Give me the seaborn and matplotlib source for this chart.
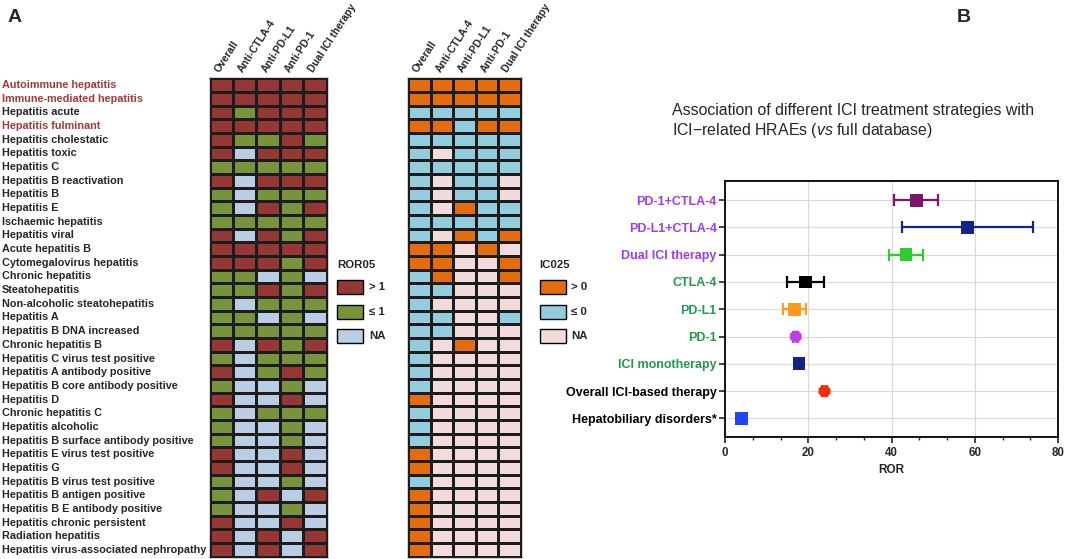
import numpy as np
import pandas as pd
import matplotlib
matplotlib.use("Agg")
import matplotlib.pyplot as plt
import seaborn as sns
from matplotlib.colors import ListedColormap
from matplotlib.patches import Rectangle
from matplotlib.ticker import MultipleLocator

# ========== style ==========
sns.set_style("ticks")
plt.rcParams['font.family'] = ['Liberation Sans', 'DejaVu Sans']
plt.rcParams['mathtext.fontset'] = 'custom'
plt.rcParams['mathtext.rm'] = 'Liberation Sans'
plt.rcParams['mathtext.it'] = 'Liberation Sans:italic'

# ========== data ==========
terms = ['Autoimmune hepatitis', 'Immune-mediated hepatitis', 'Hepatitis acute',
         'Hepatitis fulminant', 'Hepatitis cholestatic', 'Hepatitis toxic', 'Hepatitis C',
         'Hepatitis B reactivation', 'Hepatitis B', 'Hepatitis E', 'Ischaemic hepatitis',
         'Hepatitis viral', 'Acute hepatitis B', 'Cytomegalovirus hepatitis',
         'Chronic hepatitis', 'Steatohepatitis', 'Non-alcoholic steatohepatitis',
         'Hepatitis A', 'Hepatitis B DNA increased', 'Chronic hepatitis B',
         'Hepatitis C virus test positive', 'Hepatitis A antibody positive',
         'Hepatitis B core antibody positive', 'Hepatitis D', 'Chronic hepatitis C',
         'Hepatitis alcoholic', 'Hepatitis B surface antibody positive',
         'Hepatitis E virus test positive', 'Hepatitis G', 'Hepatitis B virus test positive',
         'Hepatitis B antigen positive', 'Hepatitis B E antibody positive',
         'Hepatitis chronic persistent', 'Radiation hepatitis',
         'Hepatitis virus-associated nephropathy']
highlight_terms = ['Autoimmune hepatitis', 'Immune-mediated hepatitis', 'Hepatitis fulminant']
drug_cols = ['Overall', 'Anti-CTLA-4', 'Anti-PD-L1', 'Anti-PD-1', 'Dual ICI therapy']

# R = ROR05 > 1, G = ROR05 <= 1, N = NA
ror05 = ['RRRRR', 'RRRRR', 'RGRRR', 'RRRRR', 'RGGRG', 'RNRRR', 'GGGGG', 'RNRRR',
         'GNGGG', 'GNRGR', 'GGGGG', 'RNRGR', 'RRRRR', 'RRRGR', 'GGNGN', 'GGRGR',
         'GNGGG', 'GGNGN', 'GGGGG', 'RNRGR', 'GNGGG', 'RNGRG', 'GNNGN', 'RNNRN',
         'GNGGG', 'GNNGN', 'GNNGN', 'RNNRN', 'RNNRN', 'GNNGN', 'GNRNR', 'GNNGN',
         'RNNRN', 'RNRNR', 'RNRNR']
# O = IC025 > 0, B = IC025 <= 0, N = NA
ic025 = ['OOOOO', 'OOOOO', 'BBBBB', 'OOBOO', 'BBBBB', 'BNBBB', 'BBBBB', 'BNBBN',
         'BNBBN', 'BNOBB', 'BBBBB', 'BNOBO', 'OONON', 'OONNO', 'BONNO', 'BBNNN',
         'BNNNN', 'BBNNB', 'BBNNN', 'BNONN', 'BNNNN', 'BNNNN', 'BNNNN', 'ONNNN',
         'BNNNN', 'BNNNN', 'BNNNN', 'ONNNN', 'ONNNN', 'BNNNN', 'ONNNN', 'ONNNN',
         'ONNNN', 'ONNNN', 'ONNNN']

strategies = ['PD-1+CTLA-4', 'PD-L1+CTLA-4', 'Dual ICI therapy', 'CTLA-4', 'PD-L1', 'PD-1',
              'ICI monotherapy', 'Overall ICI-based therapy', 'Hepatobiliary disorders*']
ror = [46.0, 58.3, 43.5, 19.4, 16.7, 17.0, 17.8, 23.9, 3.9]
ror_low = [40.7, 42.6, 39.4, 15.0, 13.9, 16.4, 17.2, 23.3, 3.8]
ror_high = [51.1, 74.1, 47.6, 23.9, 19.4, 17.6, 18.4, 24.5, 4.0]
label_colors = ['#9b3cf5'] * 3 + ['#1e9a4e'] * 4 + ['#000000'] * 2
point_colors = ['#7b1768', '#13238c', '#2ecc2e', '#000000', '#ff9a1f', '#c23ee6',
                '#13238c', '#ff2a0a', '#1f45ff']
point_markers = ['s', 's', 's', 's', 's', '8', 's', '8', 's']

# ========== figure ==========
W, H = 1065, 559
fig = plt.figure(figsize=(W / 100, H / 100), dpi=100)


def px_rect(x0, y0, x1, y1):
    return [x0 / W, 1 - y1 / H, (x1 - x0) / W, (y1 - y0) / H]


def draw_heatmap(ax, codes, mapping, colors, show_rows):
    df = pd.DataFrame([[mapping[c] for c in row] for row in codes], index=terms, columns=drug_cols)
    sns.heatmap(df, ax=ax, cmap=ListedColormap(colors), vmin=-0.5, vmax=len(colors) - 0.5,
                cbar=False, linewidths=0.9, linecolor='#1c1c1c')
    ax.xaxis.tick_top()
    ax.set_xticks(np.arange(len(drug_cols)) + 0.5)
    ax.set_xticklabels(drug_cols, rotation=57, ha='left', rotation_mode='anchor',
                       fontsize=7.5, fontweight='bold')
    ax.tick_params(axis='x', length=0, pad=3)
    ax.set_xlabel('')
    ax.set_ylabel('')
    for s in ax.spines.values():
        s.set_visible(True)
        s.set_color('#1c1c1c')
        s.set_linewidth(1.0)
    if show_rows:
        ax.set_yticks(np.arange(len(terms)) + 0.5)
        ax.set_yticklabels(terms, fontsize=7.8, fontweight='bold', ha='left', rotation=0)
        ax.tick_params(axis='y', length=0, pad=(209.5 - 2) * 0.72)
        for lab in ax.get_yticklabels():
            if lab.get_text() in highlight_terms:
                lab.set_color('#a33a3a')
    else:
        ax.set_yticks([])


# ---- panel A heatmaps
ax1 = fig.add_axes(px_rect(209.5, 78.3, 326.7, 556.7))
draw_heatmap(ax1, ror05, {'N': 0, 'G': 1, 'R': 2}, ['#b9cde5', '#77933c', '#953735'], True)

ax2 = fig.add_axes(px_rect(408.3, 78.3, 520.7, 556.7))
draw_heatmap(ax2, ic025, {'N': 0, 'B': 1, 'O': 2}, ['#f2dcdb', '#93cddd', '#e46c0a'], False)


def draw_legend(x, title, labels, colors, label_x):
    fig.text(x / W, 1 - 265 / H, title, fontsize=8.2, fontweight='bold', va='center', ha='left')
    for k, (lab, col) in enumerate(zip(labels, colors)):
        y0 = 280 + k * 24.7
        fig.add_artist(Rectangle((x / W, 1 - (y0 + 14) / H), 26 / W, 14 / H,
                                 transform=fig.transFigure, facecolor=col,
                                 edgecolor='black', lw=1.0))
        fig.text(label_x / W, 1 - (y0 + 7) / H, lab, fontsize=8.2, fontweight='bold',
                 va='center', ha='left')


draw_legend(337, 'ROR05', ['> 1', '≤ 1', 'NA'], ['#953735', '#77933c', '#b9cde5'], 369)
draw_legend(539.5, 'IC025', ['> 0', '≤ 0', 'NA'], ['#e46c0a', '#93cddd', '#f2dcdb'], 571)

# ---- panel B forest plot
axb = fig.add_axes(px_rect(725, 181, 1058, 437))
pos = np.arange(len(strategies))
for i in range(len(strategies)):
    axb.errorbar(ror[i], pos[i], xerr=[[ror[i] - ror_low[i]], [ror_high[i] - ror[i]]],
                 color=point_colors[i], capsize=4, elinewidth=1.6, capthick=1.6, zorder=2)
sns.scatterplot(x=ror, y=pos, hue=strategies, palette=dict(zip(strategies, point_colors)),
                style=strategies, markers=dict(zip(strategies, point_markers)),
                s=85, linewidth=0, legend=False, ax=axb, zorder=3)

axb.set_xlim(0, 80)
axb.set_ylim(8.68, -0.7)
axb.set_xticks([0, 20, 40, 60, 80])
axb.xaxis.set_minor_locator(MultipleLocator(20 / 3))
axb.set_yticks(pos)
axb.set_yticklabels(strategies, fontsize=9, fontweight='bold')
for lab, col in zip(axb.get_yticklabels(), label_colors):
    lab.set_color(col)
for lab in axb.get_xticklabels():
    lab.set_fontweight('bold')
axb.tick_params(axis='x', labelsize=8.3, length=4, width=1.2, pad=3)
axb.tick_params(axis='x', which='minor', length=2.5, width=1.0)
axb.tick_params(axis='y', length=4, width=1.2, pad=2)
axb.grid(True, color='#d9d9d9', lw=0.8)
axb.set_axisbelow(True)
for s in axb.spines.values():
    s.set_color('black')
    s.set_linewidth(1.3)
axb.set_xlabel('ROR', fontsize=8.5, fontweight='bold', labelpad=4)

fig.text(672 / W, 1 - 110 / H, 'Association of different ICI treatment strategies with',
         fontsize=11.4, va='center', ha='left')
fig.text(672 / W, 1 - 131 / H, 'ICI\u2212related HRAEs ($\\mathit{vs}$ full database)',
         fontsize=11.4, va='center', ha='left')

fig.text(8 / W, 1 - 18 / H, 'A', fontsize=14, fontweight='bold', va='center', ha='left')
fig.text(957 / W, 1 - 18 / H, 'B', fontsize=14, fontweight='bold', va='center', ha='left')

plt.savefig('out.png', dpi=100)
plt.close()
